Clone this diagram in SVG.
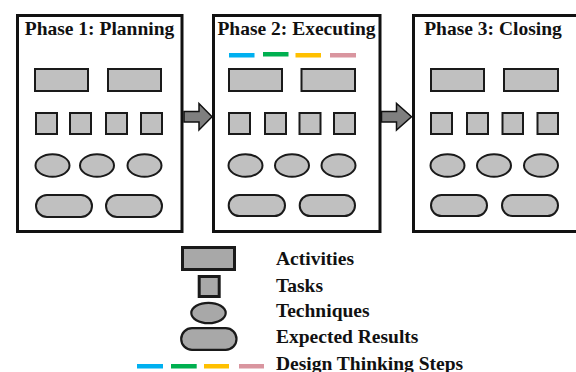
<svg xmlns="http://www.w3.org/2000/svg" width="576" height="372" viewBox="0 0 576 372">
  <style>
    text { font-family: "Liberation Serif", "Times New Roman", serif; font-weight: bold; font-size: 19.5px; fill: #111; }
    .title { text-anchor: middle; }
    .panel { fill: #fff; stroke: #111; stroke-width: 3; }
    .shape { fill: #c0c0c0; stroke: #1a1a1a; stroke-width: 2; }
    .key { fill: #a8a8a8; stroke: #1a1a1a; stroke-width: 3; }
    .key-thin { fill: #a8a8a8; stroke: #1a1a1a; stroke-width: 2.2; }
    .flow { fill: #7f7f7f; stroke: #111; stroke-width: 1.5; stroke-linejoin: miter; }
    .dt-blue { fill: #00b0f0; }
    .dt-green { fill: #00b050; }
    .dt-yellow { fill: #ffc000; }
    .dt-pink { fill: #d9959f; }
  </style>

  <rect width="576" height="372" fill="#fff"/>

  <!-- Phase 1 -->
  <g id="phase1">
    <rect class="panel" x="17.5" y="15.5" width="164.5" height="216"/>
    <text class="title" x="99.5" y="35">Phase 1: Planning</text>
    <rect class="shape" x="35" y="69" width="53" height="22"/>
    <rect class="shape" x="108" y="69" width="53" height="22"/>
    <rect class="shape" x="36" y="113" width="21" height="21"/>
    <rect class="shape" x="70" y="113" width="21" height="21"/>
    <rect class="shape" x="106" y="113" width="21" height="21"/>
    <rect class="shape" x="141" y="113" width="21" height="21"/>
    <ellipse class="shape" cx="52.5" cy="165.5" rx="17" ry="11.3"/>
    <ellipse class="shape" cx="97" cy="165.5" rx="17" ry="11.3"/>
    <ellipse class="shape" cx="144.5" cy="165.5" rx="17" ry="11.3"/>
    <rect class="shape" x="36" y="195" width="56" height="22" rx="11"/>
    <rect class="shape" x="106" y="195" width="56" height="22" rx="11"/>
  </g>

  <!-- Phase 2 -->
  <g id="phase2">
    <rect class="panel" x="213.5" y="15.5" width="166.5" height="216"/>
    <text class="title" x="296.5" y="35">Phase 2: Executing</text>
    <rect class="dt-blue" x="229" y="53" width="25.5" height="4.5"/>
    <rect class="dt-green" x="263" y="52" width="25.5" height="4.5"/>
    <rect class="dt-yellow" x="295.5" y="53" width="25.5" height="4.5"/>
    <rect class="dt-pink" x="330" y="53" width="26" height="4.5"/>
    <rect class="shape" x="229" y="69" width="53" height="22"/>
    <rect class="shape" x="301.5" y="69" width="53.5" height="22"/>
    <rect class="shape" x="229" y="113" width="21" height="21"/>
    <rect class="shape" x="265" y="113" width="21" height="21"/>
    <rect class="shape" x="299.5" y="113" width="21" height="21"/>
    <rect class="shape" x="334" y="113" width="21" height="21"/>
    <ellipse class="shape" cx="245.5" cy="165.5" rx="17" ry="11.3"/>
    <ellipse class="shape" cx="292" cy="165.5" rx="17" ry="11.3"/>
    <ellipse class="shape" cx="338.5" cy="165.5" rx="17" ry="11.3"/>
    <rect class="shape" x="228.7" y="195" width="56.3" height="21" rx="10.5"/>
    <rect class="shape" x="299.7" y="195" width="55.3" height="21" rx="10.5"/>
  </g>

  <!-- Phase 3 -->
  <g id="phase3">
    <rect class="panel" x="413.5" y="15.5" width="166.5" height="216"/>
    <text class="title" x="493" y="35">Phase 3: Closing</text>
    <rect class="shape" x="431" y="69" width="53" height="22"/>
    <rect class="shape" x="504" y="69" width="54" height="22"/>
    <rect class="shape" x="431" y="113" width="21" height="21"/>
    <rect class="shape" x="467" y="113" width="21" height="21"/>
    <rect class="shape" x="502.5" y="113" width="20.5" height="21"/>
    <rect class="shape" x="537.5" y="113" width="20.5" height="21"/>
    <ellipse class="shape" cx="447.5" cy="165.5" rx="17" ry="11.3"/>
    <ellipse class="shape" cx="494" cy="165.5" rx="17" ry="11.3"/>
    <ellipse class="shape" cx="541" cy="165.5" rx="17" ry="11.3"/>
    <rect class="shape" x="431" y="195" width="56" height="21" rx="10.5"/>
    <rect class="shape" x="502" y="195" width="56" height="21" rx="10.5"/>
  </g>

  <!-- Block arrows between phases -->
  <g id="connectors">
    <polygon class="flow" points="184,111.5 199,111.5 199,103.5 212,116.8 199,130 199,122 184,122"/>
    <polygon class="flow" points="381.5,111.5 396.5,111.5 396.5,103.5 411.5,116.8 396.5,130 396.5,122 381.5,122"/>
  </g>

  <!-- Legend -->
  <g id="legend">
    <rect class="key" x="182.5" y="247.5" width="52" height="22"/>
    <rect class="key" x="199.2" y="276.5" width="20" height="20"/>
    <ellipse class="key-thin" cx="208.5" cy="313" rx="17.2" ry="10.2"/>
    <rect class="key-thin" x="181.2" y="328.2" width="55.3" height="21.6" rx="10.8"/>
    <rect class="dt-blue" x="137" y="364" width="26" height="4.5"/>
    <rect class="dt-green" x="171" y="364" width="25.7" height="4.5"/>
    <rect class="dt-yellow" x="204" y="364" width="25" height="4.5"/>
    <rect class="dt-pink" x="239" y="364" width="25" height="4.5"/>
    <text x="276" y="265">Activities</text>
    <text x="276" y="291.5">Tasks</text>
    <text x="276" y="316.5">Techniques</text>
    <text x="276" y="343">Expected Results</text>
    <text x="276" y="370">Design Thinking Steps</text>
  </g>
</svg>
